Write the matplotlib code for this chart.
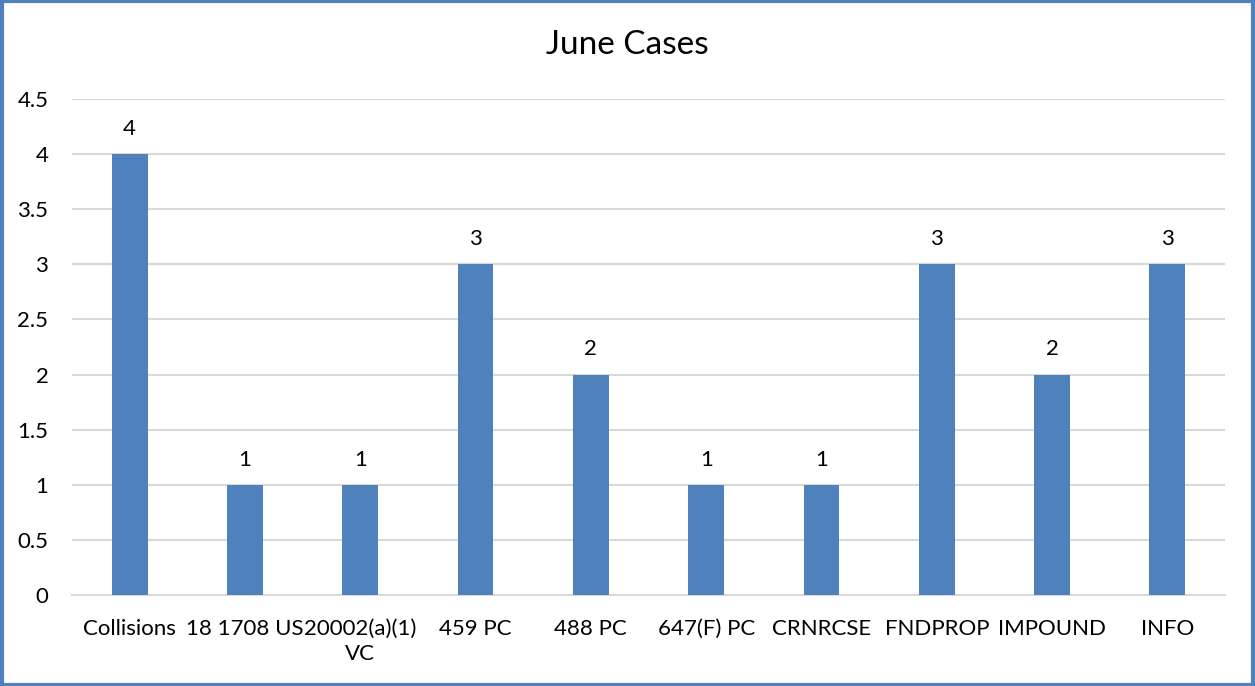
import matplotlib
matplotlib.use("Agg")
import matplotlib.pyplot as plt
from matplotlib.patches import Rectangle

categories = ["Collisions", "18 1708 US", "20002(a)(1)\nVC", "459 PC", "488 PC",
              "647(F) PC", "CRNRCSE", "FNDPROP", "IMPOUND", "INFO"]
values = [4, 1, 1, 3, 2, 1, 1, 3, 2, 3]
yticks = [0, 0.5, 1, 1.5, 2, 2.5, 3, 3.5, 4, 4.5]
ytick_labels = ["0", "0.5", "1", "1.5", "2", "2.5", "3", "3.5", "4", "4.5"]

plt.rcParams['font.family'] = ['Lato', 'DejaVu Sans']

fig = plt.figure(figsize=(12.55, 6.86), dpi=100)
ax = fig.add_axes([72/1255, 91/686, 1153/1255, 496/686])

bar_color = "#4F81BD"
x = list(range(len(categories)))
ax.bar(x, values, width=0.31, color=bar_color, zorder=3)
for xi, v in zip(x, values):
    ax.annotate(str(v), (xi, v), xytext=(0, 11), textcoords="offset points",
                ha="center", va="bottom", fontsize=16, color="black")

ax.set_xlim(-0.5, len(categories) - 0.5)
ax.set_ylim(0, 4.5)
ax.set_yticks(yticks)
ax.set_yticklabels(ytick_labels, fontsize=16)
ax.set_xticks(x)
ax.set_xticklabels(categories, fontsize=16, linespacing=1.35)
ax.tick_params(axis="both", length=0)
ax.tick_params(axis="x", pad=17)
ax.tick_params(axis="y", pad=17)
ax.grid(axis="y", color="#D9D9D9", linewidth=1.5, zorder=0)
for s in ["top", "right", "left"]:
    ax.spines[s].set_visible(False)
ax.spines["bottom"].set_color("#D9D9D9")
ax.spines["bottom"].set_linewidth(1.5)

fig.text(0.5, 1 - 45/686, "June Cases", ha="center", va="center", fontsize=24)

fig.patches.append(Rectangle((0.0015, 0.002), 0.997, 0.996, transform=fig.transFigure,
                             fill=False, edgecolor="#4F81BD", linewidth=3))

fig.savefig("out.png", dpi=100)
